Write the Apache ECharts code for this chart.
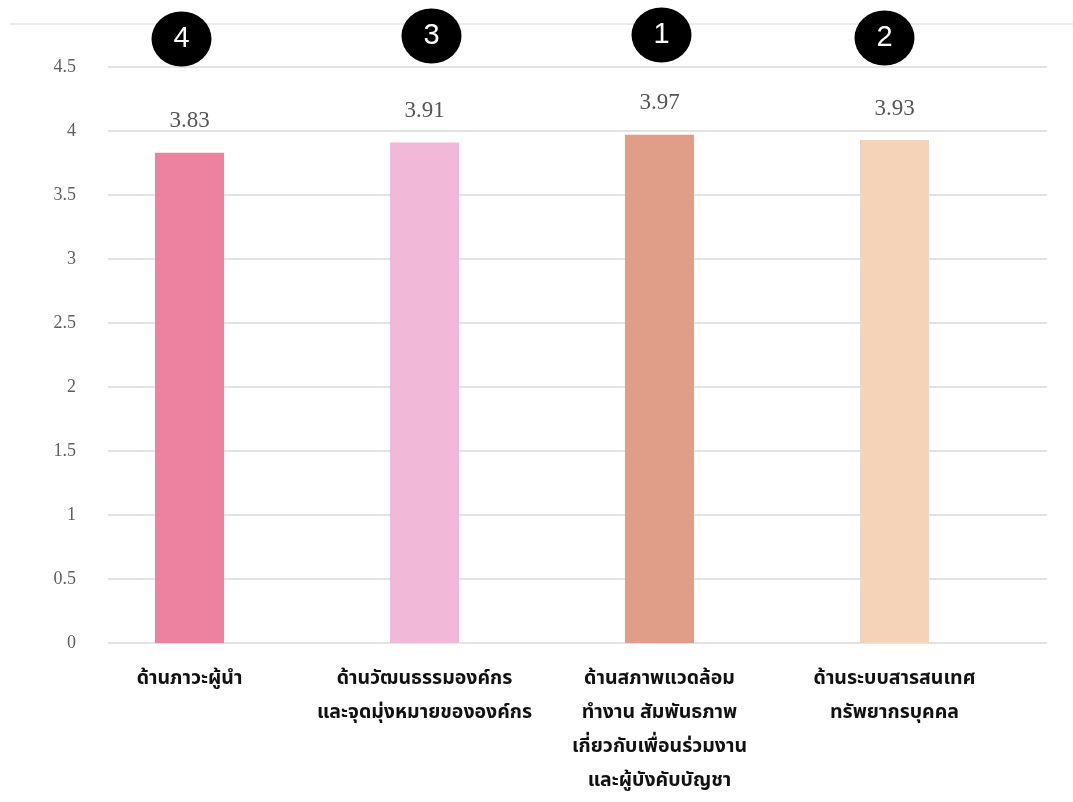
<!DOCTYPE html>
<html>
<head>
<meta charset="utf-8">
<script src="https://cdn.jsdelivr.net/npm/echarts@6/dist/echarts.min.js"></script>
<style>
  html, body { margin: 0; padding: 0; background: #ffffff; }
  #chart { width: 1073px; height: 802px; }
</style>
</head>
<body>
<div id="chart"></div>
<script>
// Mean scores per aspect, with their rank badges
const categories = [
  'ด้านภาวะผู้นำ',
  'ด้านวัฒนธรรมองค์กร\nและจุดมุ่งหมายขององค์กร',
  'ด้านสภาพแวดล้อม\nทำงาน สัมพันธภาพ\nเกี่ยวกับเพื่อนร่วมงาน\nและผู้บังคับบัญชา',
  'ด้านระบบสารสนเทศ\nทรัพยากรบุคคล'
];
const scores = [3.83, 3.91, 3.97, 3.93];
const ranks = [4, 3, 1, 2];
const yTicks = { min: 0, max: 4.5, interval: 0.5 };

// Styling
const barColors = ['#EC82A0', '#F2B8D8', '#E09E88', '#F5D3B8'];
const badgeNudge = [[-8, -28], [7, -31], [2, -32], [-10, -29]];
const thaiFont = '"Noto Sans Thai", "Noto Serif Thai", "Noto Sans", sans-serif';
const serifFont = '"Liberation Serif", "Times New Roman", serif';

const chart = echarts.init(document.getElementById('chart'), null, { renderer: 'canvas' });

const option = {
  backgroundColor: '#ffffff',
  animation: false,
  grid: [
    // gridlines + value labels
    { left: 108, right: 26, top: 67, bottom: 159, containLabel: false, outerBoundsMode: 'none' },
    // bars
    { left: 72, right: 61, top: 67, bottom: 159, containLabel: false, outerBoundsMode: 'none' }
  ],
  xAxis: [
    { type: 'category', gridIndex: 0, data: categories, show: false },
    {
      type: 'category', gridIndex: 1, data: categories,
      axisLine: { show: false }, axisTick: { show: false }, splitLine: { show: false },
      axisLabel: {
        interval: 0, margin: 20,
        color: '#111111', fontFamily: thaiFont, fontWeight: 'bold',
        fontSize: 19.5, lineHeight: 34, align: 'center'
      }
    }
  ],
  yAxis: [
    {
      type: 'value', gridIndex: 0, min: yTicks.min, max: yTicks.max, interval: yTicks.interval,
      axisLine: { show: false }, axisTick: { show: false },
      splitLine: { show: true, lineStyle: { color: '#e3e3e3', width: 2 } },
      axisLabel: { margin: 32, color: '#5e5e5e', fontFamily: serifFont, fontSize: 18 }
    },
    {
      type: 'value', gridIndex: 1, min: yTicks.min, max: yTicks.max, interval: yTicks.interval,
      show: false, splitLine: { show: false }
    }
  ],
  graphic: [
    {
      type: 'line', silent: true,
      shape: { x1: 10, y1: 24, x2: 1073, y2: 24 },
      style: { stroke: '#ebebeb', lineWidth: 2 }
    }
  ],
  series: [
    {
      type: 'bar', xAxisIndex: 1, yAxisIndex: 1,
      barWidth: 69,
      data: scores.map((v, i) => ({ value: v, itemStyle: { color: barColors[i], opacity: 1 } })),
      label: {
        show: true, position: 'top', distance: 20,
        color: '#555555', fontFamily: serifFont, fontSize: 23,
        formatter: p => p.value.toFixed(2)
      }
    },
    {
      type: 'scatter', xAxisIndex: 1, yAxisIndex: 1, clip: false, z: 5,
      symbol: 'circle', symbolSize: [60, 55],
      data: ranks.map((r, i) => ({
        value: [i, yTicks.max],
        rank: r,
        symbolOffset: badgeNudge[i]
      })),
      itemStyle: { color: '#000000', opacity: 1 },
      label: {
        show: true, position: 'inside',
        color: '#ffffff', fontFamily: '"Liberation Sans", Arial, sans-serif', fontSize: 29,
        formatter: p => String(p.data.rank)
      }
    }
  ]
};

chart.setOption(option);
</script>
</body>
</html>
